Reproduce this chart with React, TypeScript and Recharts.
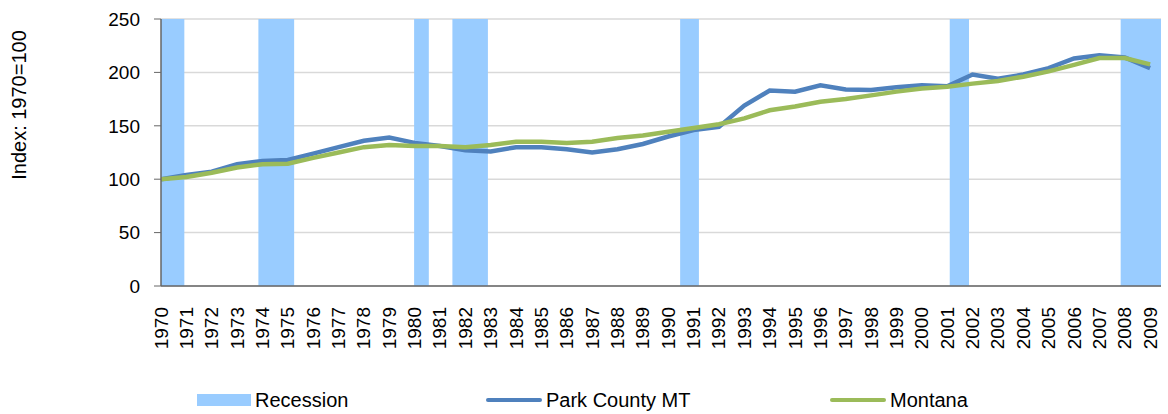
import { CartesianGrid, ComposedChart, Line, ReferenceArea, XAxis, YAxis } from 'recharts';

const years = [
  1970, 1971, 1972, 1973, 1974, 1975, 1976, 1977, 1978, 1979,
  1980, 1981, 1982, 1983, 1984, 1985, 1986, 1987, 1988, 1989,
  1990, 1991, 1992, 1993, 1994, 1995, 1996, 1997, 1998, 1999,
  2000, 2001, 2002, 2003, 2004, 2005, 2006, 2007, 2008, 2009,
];

const parkCounty = [
  100, 104, 107, 114, 117, 118, 124, 130, 136, 139,
  134, 131, 127, 126, 130, 130, 128, 125, 128, 133,
  140, 146, 149, 169, 183, 182, 188, 184, 183.5, 186,
  188, 187, 198, 194, 198, 204, 213, 216, 214, 204,
];

const montana = [
  100, 102, 106, 111, 114, 114.5, 120, 125, 130, 132,
  131, 131, 130, 132, 135, 135, 134, 135, 138.5, 141,
  144.5, 148, 151.5, 157, 164.5, 168, 172.5, 175, 178.5, 182,
  185, 186.5, 189.5, 192, 196, 201, 207, 213.5, 213.5, 207.5,
];

// recession spans as decimal years
const recessionStart = [1970, 1973.84, 1979.98, 1981.49, 1990.47, 2001.1, 2007.84];
const recessionEnd = [1970.92, 1975.25, 1980.56, 1982.89, 1991.21, 2001.86, 2009.43];

const yTicks = [0, 50, 100, 150, 200, 250];

const FONT = '"Liberation Sans", Arial, sans-serif';
const BLUE = '#4F81BD';
const GREEN = '#9BBB59';
const RECESSION = '#99CCFF';

const data = years.map((year, i) => ({ year, park: parkCounty[i], mt: montana[i] }));

function YearTick(props: any) {
  const { x, y, payload } = props;
  return (
    <text
      x={x}
      y={y + 13}
      transform={`rotate(-90, ${x}, ${y + 13})`}
      textAnchor="end"
      dominantBaseline="central"
      fontSize={19}
      fontFamily={FONT}
      fill="#000"
    >
      {payload.value}
    </text>
  );
}

function LegendItem({ kind, color, label, left }: { kind: 'box' | 'line'; color: string; label: string; left: number }) {
  return (
    <div style={{ position: 'absolute', left, top: 388, display: 'flex', alignItems: 'center', height: 24 }}>
      {kind === 'box' ? (
        <div style={{ width: 54, height: 12, background: color }} />
      ) : (
        <div style={{ width: 56, height: 4, background: color, borderRadius: 2 }} />
      )}
      <span style={{ marginLeft: 4, fontSize: 20, fontFamily: FONT, color: '#000' }}>{label}</span>
    </div>
  );
}

export default function App() {
  return (
    <div style={{ position: 'absolute', left: 0, top: 0, width: 1168, height: 414, background: '#fff' }}>
      <ComposedChart width={1168} height={414} data={data} margin={{ top: 19, right: 7, left: 0, bottom: 0 }}>
        <CartesianGrid vertical={false} stroke="#D9D9D9" strokeWidth={1.5} />
        <XAxis
          dataKey="year"
          type="number"
          domain={[1970, 2009.43]}
          ticks={years}
          interval={0}
          allowDataOverflow
          height={128}
          tickLine={false}
          axisLine={{ stroke: '#666', strokeWidth: 1.5 }}
          tick={<YearTick />}
        />
        <YAxis
          domain={[0, 250]}
          ticks={yTicks}
          width={161}
          tickSize={7}
          tickMargin={14}
          tickLine={{ stroke: '#666' }}
          axisLine={{ stroke: '#666', strokeWidth: 1.5 }}
          tick={{ fontSize: 19, fontFamily: FONT, fill: '#000' }}
          label={{
            content: () => (
              <text
                x={19}
                y={105}
                transform="rotate(-90, 19, 105)"
                textAnchor="middle"
                dominantBaseline="central"
                fontSize={20}
                fontFamily={FONT}
                fill="#000"
              >
                Index: 1970=100
              </text>
            ),
          }}
        />
        {recessionStart.map((s, i) => (
          <ReferenceArea
            key={s}
            x1={s}
            x2={recessionEnd[i]}
            y1={0}
            y2={250}
            fill={RECESSION}
            fillOpacity={1}
            stroke="none"
            ifOverflow="hidden"
          />
        ))}
        <Line
          type="linear"
          dataKey="park"
          stroke={BLUE}
          strokeWidth={4.5}
          dot={false}
          isAnimationActive={false}
        />
        <Line
          type="linear"
          dataKey="mt"
          stroke={GREEN}
          strokeWidth={4.5}
          dot={false}
          isAnimationActive={false}
        />
      </ComposedChart>
      <LegendItem kind="box" color={RECESSION} label="Recession" left={197} />
      <LegendItem kind="line" color={BLUE} label="Park County MT" left={486} />
      <LegendItem kind="line" color={GREEN} label="Montana" left={830} />
    </div>
  );
}
